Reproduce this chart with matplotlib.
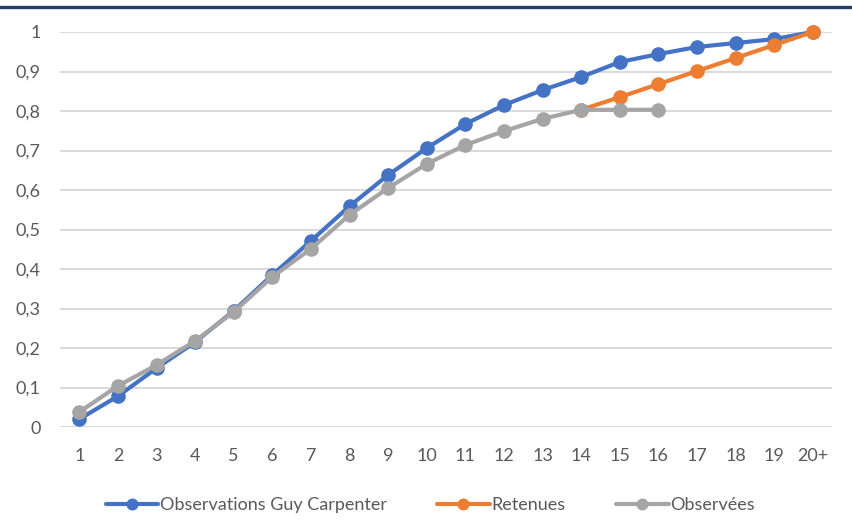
import numpy as np
import matplotlib.pyplot as plt
from matplotlib.lines import Line2D

categories = ["1", "2", "3", "4", "5", "6", "7", "8", "9", "10",
              "11", "12", "13", "14", "15", "16", "17", "18", "19", "20+"]

guy_carpenter = [0.020, 0.078, 0.149, 0.215, 0.294, 0.385, 0.471, 0.559, 0.638, 0.706,
                 0.767, 0.815, 0.853, 0.886, 0.924, 0.944, 0.962, 0.972, 0.982, 1.000]
retenues = [0.803, 0.835, 0.868, 0.901, 0.934, 0.967, 1.000]   # from 14 to 20+
observees = [0.038, 0.104, 0.157, 0.218, 0.291, 0.380, 0.451, 0.537, 0.605, 0.666,
             0.714, 0.749, 0.780, 0.803, 0.803, 0.803]          # from 1 to 16

y_ticks = [0, 0.1, 0.2, 0.3, 0.4, 0.5, 0.6, 0.7, 0.8, 0.9, 1]
y_labels = ["0", "0,1", "0,2", "0,3", "0,4", "0,5", "0,6", "0,7", "0,8", "0,9", "1"]

plt.rcParams["font.family"] = ["Lato", "DejaVu Sans"]
text_col = "#595959"

fig = plt.figure(figsize=(8.52, 5.2), dpi=100)
ax = fig.add_axes([60 / 852, 93 / 520, 772 / 852, 395 / 520])

x = np.arange(len(categories))
style = dict(lw=3.0, marker="o", ms=9.5, clip_on=False, solid_capstyle="round")
ax.plot(x, guy_carpenter, color="#4472C4", label="Observations Guy Carpenter", zorder=3, **style)
ax.plot(x[13:13 + len(retenues)], retenues, color="#ED7D31", label="Retenues", zorder=4, **style)
ax.plot(x[:len(observees)], observees, color="#A5A5A5", label="Observées", zorder=5, **style)

ax.set_xlim(-0.5, len(categories) - 0.5)
ax.set_ylim(0, 1)
ax.set_xticks(x)
ax.set_xticklabels(categories)
ax.set_yticks(y_ticks)
ax.set_yticklabels(y_labels)
ax.tick_params(axis="both", length=0, labelsize=13, colors=text_col)
ax.tick_params(axis="y", pad=14)
ax.tick_params(axis="x", pad=15)
ax.grid(axis="y", color="#D9D9D9", lw=1.4)
ax.set_axisbelow(True)
for s in ax.spines.values():
    s.set_visible(False)

fig.legend(loc="center", bbox_to_anchor=(0.505, 15 / 520), ncol=3, frameon=False,
           fontsize=13, labelcolor=text_col, handlelength=2.9, handletextpad=0.1,
           columnspacing=2.8, markerscale=0.8)

# dark rule across the top of the figure
fig.add_artist(Line2D([0, 1], [1 - 7 / 520, 1 - 7 / 520], color="#1F3F66", lw=2.4,
                      transform=fig.transFigure))

fig.savefig("out.png", dpi=100)
